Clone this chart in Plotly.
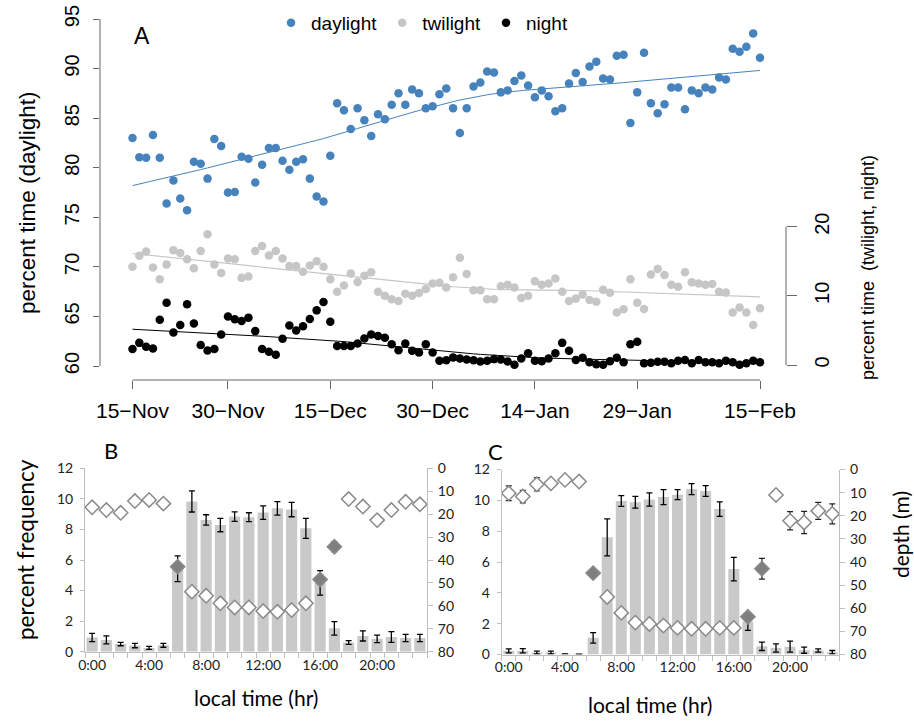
import numpy as np
import plotly.graph_objects as go

W, H = 914, 724


def px(x):
    return x / W


def py(y):
    return 1 - y / H


# ---------------- Panel A: daily percent time in each light period ----------------
days = list(range(93))
daylight = [83.0, 81.05, 81.0, 83.3, 81.0, 76.4, 78.7, 76.9, 75.7, 80.6,
            80.4, 78.9, 82.9, 82.2, 77.5, 77.55, 81.1, 80.9, 78.5, 80.3,
            82.0, 82.0, 80.7, 79.8, 80.6, 80.85, 78.9, 77.1, 76.6, 81.2,
            86.5, 85.8, 83.9, 86.0, 84.8, 83.2, 85.4, 84.9, 86.35, 87.5,
            86.35, 87.9, 87.5, 86.0, 86.2, 87.4, 88.0, 86.0, 83.5, 86.0,
            88.2, 88.6, 89.7, 89.6, 87.6, 87.8, 88.75, 89.3, 88.3, 87.1,
            87.8, 87.2, 85.7, 86.0, 88.5, 89.55, 88.65, 90.2, 90.7, 89.0,
            88.9, 91.3, 91.4, 84.5, 87.6, 91.6, 86.5, 85.5, 86.4, 88.1,
            88.1, 85.9, 87.8, 87.5, 88.1, 87.9, 89.1, 88.9, 92.0, 91.7,
            92.2, 93.55, 91.1]
twilight = [14.2, 15.8, 16.4, 14.1, 12.4, 14.55, 16.6, 16.2, 15.3, 14.0,
            16.5, 18.9, 14.55, 13.3, 15.4, 15.3, 12.6, 12.8, 16.5, 17.2,
            15.85, 16.5, 15.4, 14.3, 14.3, 13.5, 14.4, 15.0, 14.2, 12.4,
            10.6, 11.5, 13.25, 12.0, 12.9, 13.4, 10.6, 10.0, 9.5, 9.25,
            10.3, 10.0, 10.4, 11.0, 11.8, 11.9, 11.2, 12.7, 15.5, 13.15,
            10.8, 10.8, 9.5, 9.5, 11.4, 11.6, 11.2, 9.7, 10.0, 12.1,
            11.6, 11.8, 12.5, 10.6, 9.25, 9.6, 10.2, 9.4, 9.15, 10.9,
            10.45, 7.6, 8.05, 12.4, 9.0, 8.1, 13.1, 13.9, 13.0, 11.6,
            11.3, 13.4, 11.95, 11.8, 11.6, 11.7, 10.6, 10.5, 7.6, 8.3,
            7.6, 5.8, 8.2]
night = [2.3, 3.2, 2.65, 2.4, 6.55, 9.0, 4.7, 5.8, 8.8, 6.0,
         2.9, 2.1, 2.3, 4.4, 7.0, 6.6, 6.35, 6.85, 4.9, 2.3,
         1.9, 1.5, 3.8, 5.7, 5.0, 5.6, 6.65, 7.9, 9.1, 6.25,
         2.75, 2.75, 2.75, 3.1, 3.85, 4.4, 4.2, 3.95, 3.0, 2.15,
         3.1, 2.05, 1.8, 3.0, 1.8, 0.6, 0.7, 1.1, 0.95, 0.8,
         0.7, 0.5, 0.6, 0.85, 0.8, 0.5, 0.05, 0.95, 1.7, 0.6,
         0.55, 0.95, 1.7, 3.2, 2.07, 0.72, 1.06, 0.39, 0.1, 0.05,
         0.55, 1.06, 0.39, 3.0, 3.37, 0.24, 0.34, 0.48, 0.48, 0.24,
         0.63, 0.72, 0.24, 0.72, 0.39, 0.39, 0.24, 0.63, 0.39, 0.05,
         0.24, 0.63, 0.39]
date_ticks = [0, 14, 29, 44, 59, 74, 92]
date_labels = ["15\u2212Nov", "30\u2212Nov", "15\u2212Dec", "30\u2212Dec",
               "14\u2212Jan", "29\u2212Jan", "15\u2212Feb"]

# ---------------- Panels B and C: hourly frequency and depth ----------------
hours = list(range(24))
hour_ticks = [0, 4, 8, 12, 16, 20]
hour_labels = ["0:00", "4:00", "8:00", "12:00", "16:00", "20:00"]

b_freq = [0.93, 0.77, 0.5, 0.4, 0.25, 0.42, 5.43, 9.83, 8.62, 8.29, 8.84, 8.8,
          9.1, 9.38, 9.3, 8.07, 4.5, 1.53, 0.6, 1.03, 0.84, 0.96, 0.9, 0.9]
b_freq_err = [0.27, 0.26, 0.11, 0.14, 0.1, 0.13, 0.84, 0.69, 0.34, 0.44, 0.31, 0.29,
              0.44, 0.44, 0.47, 0.65, 0.8, 0.44, 0.12, 0.33, 0.25, 0.35, 0.24, 0.24]
b_depth = [17.0, 18.2, 19.4, 14.3, 13.8, 15.4, 42.9, 53.8, 55.6, 58.9, 60.7, 60.7,
           62.3, 62.6, 61.85, 58.9, 48.5, 34.2, 13.4, 16.7, 22.6, 18.2, 14.6, 15.7]
b_depth_err = [1.45, 1.5, 1.6, 1.6, 1.5, 1.2, 1.5, 0.8, 0.8, 0.8, 0.8, 0.8,
               0.8, 0.8, 0.8, 0.8, 2.0, 2.2, 1.2, 1.3, 1.5, 1.3, 1.2, 1.2]
b_twilight_hours = [6, 16, 17]

c_freq = [0.24, 0.24, 0.13, 0.13, 0.04, 0.03, 1.08, 7.6, 9.96, 9.88, 10.05, 10.21,
          10.37, 10.73, 10.61, 9.43, 5.54, 2.14, 0.53, 0.42, 0.51, 0.28, 0.26, 0.15]
c_freq_err = [0.13, 0.14, 0.09, 0.09, 0.0, 0.0, 0.34, 1.2, 0.35, 0.38, 0.43, 0.49,
              0.33, 0.36, 0.35, 0.47, 0.76, 0.58, 0.27, 0.27, 0.36, 0.2, 0.11, 0.11]
c_depth = [10.3, 11.7, 6.4, 6.0, 4.5, 5.2, 44.8, 55.1, 62.0, 66.2, 66.8, 67.5,
           68.5, 68.9, 68.9, 68.5, 68.5, 63.7, 42.9, 11.0, 22.2, 22.9, 17.9, 19.2]
c_depth_err = [3.2, 2.7, 2.9, 0.8, 0.8, 0.8, 0.8, 0.8, 0.8, 0.8, 0.8, 0.8,
               0.8, 0.8, 0.8, 0.8, 0.8, 1.8, 4.5, 1.0, 3.95, 4.8, 3.7, 4.3]
c_twilight_hours = [6, 17, 18]


def lowess(x, y, f=2 / 3, iters=3):
    """Locally weighted linear smoother (Cleveland), as R's lowess()."""
    x = np.asarray(x, float)
    y = np.asarray(y, float)
    n = len(x)
    r = int(np.ceil(f * n))
    h = np.array([np.sort(np.abs(x - x[i]))[r - 1] for i in range(n)])
    w = np.clip(np.abs((x[:, None] - x[None, :]) / h[None, :]), 0, 1)
    w = (1 - w ** 3) ** 3
    yest = np.zeros(n)
    delta = np.ones(n)
    for _ in range(iters + 1):
        for i in range(n):
            wt = delta * w[:, i]
            A = np.array([[wt.sum(), (wt * x).sum()],
                          [(wt * x).sum(), (wt * x * x).sum()]])
            b = np.array([(wt * y).sum(), (wt * y * x).sum()])
            beta = np.linalg.solve(A, b)
            yest[i] = beta[0] + beta[1] * x[i]
        res = y - yest
        s = np.median(np.abs(res))
        delta = np.clip(res / (6 * s), -1, 1)
        delta = (1 - delta ** 2) ** 2
    return yest


BLUE = "#4683bd"
LGRAY = "#c6c6c6"
A_FONT = "Liberation Sans, Arial, sans-serif"
BC_FONT = "Lato, Open Sans, sans-serif"

fig = go.Figure()

# Panel A scatter and smoothers
fig.add_trace(go.Scatter(x=days, y=daylight, mode="markers", name="daylight",
                         marker=dict(color=BLUE, size=8.5), xaxis="x", yaxis="y"))
fig.add_trace(go.Scatter(x=days, y=twilight, mode="markers", name="twilight",
                         marker=dict(color=LGRAY, size=8.5), xaxis="x", yaxis="y2"))
fig.add_trace(go.Scatter(x=days, y=night, mode="markers", name="night",
                         marker=dict(color="black", size=8.5), xaxis="x", yaxis="y2"))
fig.add_trace(go.Scatter(x=days, y=lowess(days, daylight), mode="lines", showlegend=False,
                         line=dict(color=BLUE, width=1), xaxis="x", yaxis="y"))
fig.add_trace(go.Scatter(x=days, y=lowess(days, twilight), mode="lines", showlegend=False,
                         line=dict(color=LGRAY, width=1.2), xaxis="x", yaxis="y2"))
fig.add_trace(go.Scatter(x=days, y=lowess(days, night), mode="lines", showlegend=False,
                         line=dict(color="black", width=1), xaxis="x", yaxis="y2"))


def hourly_panel(freq, freq_err, depth, depth_err, tw_hours, xa, ya_bar, ya_depth):
    fig.add_trace(go.Bar(x=hours, y=freq, showlegend=False,
                         marker=dict(color="#c9c9c9", line=dict(width=0)),
                         error_y=dict(type="data", array=freq_err, color="black",
                                      thickness=1.3, width=3),
                         xaxis=xa, yaxis=ya_bar))
    colors = ["#7f7f7f" if h in tw_hours else "white" for h in hours]
    fig.add_trace(go.Scatter(x=hours, y=depth, mode="markers", showlegend=False,
                             marker=dict(symbol="diamond", size=11, color=colors,
                                         line=dict(color="#8a8a8a", width=1.5)),
                             error_y=dict(type="data", array=depth_err, color="#222",
                                          thickness=1.2, width=3),
                             xaxis=xa, yaxis=ya_depth))


hourly_panel(b_freq, b_freq_err, b_depth, b_depth_err, b_twilight_hours, "x2", "y3", "y4")
hourly_panel(c_freq, c_freq_err, c_depth, c_depth_err, c_twilight_hours, "x3", "y5", "y6")

AX = "#666666"
a_dom_x = [px(100), px(786)]
a_dom_y = [py(380), py(19)]

hour_axis = dict(range=[-0.5, 23.5], tickvals=hour_ticks, ticktext=hour_labels, ticks="",
                 showline=True, linecolor="#bfbfbf", linewidth=1, showgrid=False, zeroline=False,
                 automargin=False,
                 tickfont=dict(family=BC_FONT, size=14, color="#222"),
                 minor=dict(tickvals=[h - 0.5 for h in range(25)], ticks="outside",
                            ticklen=5, tickcolor="#bfbfbf", tickwidth=1, showgrid=False))
freq_axis = dict(range=[0, 12], dtick=2, ticks="outside", ticklen=4, tickcolor="#bfbfbf",
                 showline=True, linecolor="#bfbfbf", showgrid=False, zeroline=False,
                 automargin=False,
                 tickfont=dict(family=BC_FONT, size=14, color="#222"), ticklabelstandoff=4)
depth_axis = dict(range=[80, 0], dtick=10, ticks="outside", ticklen=5, tickcolor="#bfbfbf",
                  showline=True, linecolor="#bfbfbf", showgrid=False, zeroline=False, side="right",
                  automargin=False,
                  tickfont=dict(family=BC_FONT, size=14, color="#222"), ticklabelstandoff=2)

fig.update_layout(
    template="none",
    width=W, height=H, margin=dict(l=0, r=0, t=0, b=0, autoexpand=False),
    paper_bgcolor="white", plot_bgcolor="rgba(0,0,0,0)",
    bargap=0.22,
    showlegend=True,
    legend=dict(orientation="h", x=px(271), y=py(4), xanchor="left", yanchor="top",
                font=dict(family=A_FONT, size=19, color="black"), bgcolor="rgba(0,0,0,0)",
                itemsizing="trace", tracegroupgap=0),
    xaxis=dict(domain=a_dom_x, range=[-(132.5 - 100) / 6.8207, 92 + (786 - 760) / 6.8207],
               tickvals=date_ticks, ticktext=date_labels, ticks="outside", ticklen=8,
               tickcolor=AX, showline=False, showgrid=False, zeroline=False, automargin=False,
               tickfont=dict(family=A_FONT, size=21, color="black"), ticklabelstandoff=4,
               anchor="y"),
    yaxis=dict(domain=a_dom_y, range=[60 - 14 / 9.914, 95], tickvals=[60, 65, 70, 75, 80, 85, 90, 95],
               ticks="outside", ticklen=6, tickcolor=AX, showline=False, showgrid=False, zeroline=False,
               automargin=False,
               tickangle=-90, tickfont=dict(family=A_FONT, size=20, color="black"),
               ticklabelstandoff=6, anchor="x"),
    yaxis2=dict(domain=a_dom_y, range=[-15 / 6.915, 346 / 6.915], tickvals=[0, 10, 20],
                overlaying="y", side="right", anchor="x", automargin=False,
                ticks="outside", ticklen=10, tickcolor=AX, showline=False, showgrid=False,
                zeroline=False, tickangle=-90, tickfont=dict(family=A_FONT, size=20, color="black"),
                ticklabelstandoff=8),
    xaxis2=dict(domain=[px(85), px(427)], anchor="y3", **hour_axis),
    yaxis3=dict(domain=[py(651.7), py(468.3)], anchor="x2", **freq_axis),
    yaxis4=dict(overlaying="y3", anchor="x2", **depth_axis),
    xaxis3=dict(domain=[px(501.7), px(839.3)], anchor="y5", **hour_axis),
    yaxis5=dict(domain=[py(654.5), py(469.5)], anchor="x3", **freq_axis),
    yaxis6=dict(overlaying="y5", anchor="x3", **depth_axis),
)

# R-style axis lines spanning only the labelled range in panel A
fig.add_shape(type="line", xref="paper", yref="y", x0=a_dom_x[0], x1=a_dom_x[0], y0=60, y1=95,
              line=dict(color=AX, width=1))
fig.add_shape(type="line", xref="paper", yref="y2", x0=a_dom_x[1], x1=a_dom_x[1], y0=0, y1=20,
              line=dict(color=AX, width=1))
fig.add_shape(type="line", xref="x", yref="paper", x0=date_ticks[0], x1=date_ticks[-1],
              y0=a_dom_y[0], y1=a_dom_y[0], line=dict(color=AX, width=1))


def label(text, x, y, size, family, angle=0):
    fig.add_annotation(text=text, x=px(x), y=py(y), xref="paper", yref="paper",
                       showarrow=False, textangle=angle, xanchor="center", yanchor="middle",
                       font=dict(family=family, size=size, color="black"))


label("A", 142, 36, 23, A_FONT)
label("percent time (daylight)", 28, 203, 22.5, A_FONT, -90)
label("percent time  (twilight, night)", 868, 268, 18, A_FONT, -90)
label("B", 111, 450, 22, BC_FONT)
label("C", 495, 452, 22, BC_FONT)
label("percent frequency", 25, 550, 22.5, BC_FONT, -90)
label("depth (m)", 900, 535, 21, BC_FONT, -90)
label("local time (hr)", 256, 697, 21, BC_FONT)
label("local time (hr)", 650, 704, 21, BC_FONT)

fig.write_html("out.html")
